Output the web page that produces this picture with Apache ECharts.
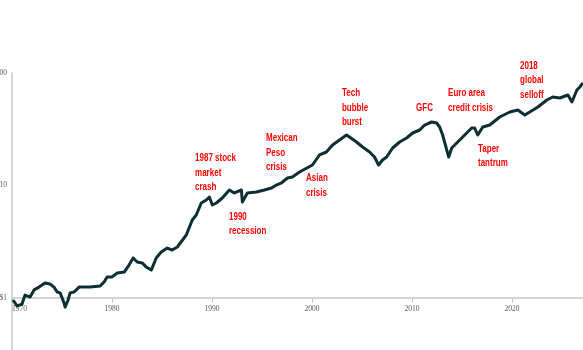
<!DOCTYPE html>
<html>
<head>
<meta charset="utf-8">
<script src="https://cdn.jsdelivr.net/npm/echarts@6/dist/echarts.min.js"></script>
<style>
html,body{margin:0;padding:0;background:#fff;}
#c{width:583px;height:350px;}
</style>
</head>
<body>
<div id="c"></div>
<script>
// Time (fractional years) and index value ($, log scale)
const years = [1970.09,1970.45,1970.90,1971.17,1971.63,1971.99,1972.44,1972.98,1973.43,1973.79,
  1974.07,1974.34,1974.70,1974.79,1975.06,1975.24,1975.60,1975.69,1976.05,1976.59,
  1977.05,1977.95,1978.31,1978.58,1979.03,1979.49,1980.12,1980.57,1980.93,1981.29,
  1981.74,1982.10,1982.56,1983.01,1983.46,1984.00,1984.45,1984.91,1985.72,1986.26,
  1986.62,1987.07,1987.52,1987.80,1988.07,1988.43,1988.97,1989.60,1990.05,1990.69,
  1990.78,1991.23,1992.04,1992.76,1993.40,1993.85,1994.30,1994.84,1995.29,1995.93,
  1997.10,1997.73,1998.36,1998.91,1999.54,2000.17,2000.44,2001.07,2001.62,2002.25,
  2002.70,2003.06,2003.42,2003.79,2004.33,2004.96,2005.59,2006.13,2006.77,2007.22,
  2007.85,2008.30,2008.57,2008.84,2009.21,2009.39,2009.66,2010.11,2010.56,2011.01,
  2011.46,2011.73,2012.01,2012.46,2013.09,2013.99,2014.90,2015.62,2016.25,2016.70,
  2017.43,2018.24,2018.78,2019.41,2020.14,2020.50,2020.95,2021.22,2021.49];
const values = [0.96,0.85,0.88,1.06,1.02,1.18,1.25,1.36,1.33,1.25,
  1.13,1.11,0.90,0.83,0.96,1.11,1.13,1.11,1.25,1.25,
  1.25,1.28,1.39,1.54,1.54,1.67,1.70,1.97,2.27,2.09,
  2.05,1.89,1.77,2.27,2.56,2.78,2.67,2.84,3.63,4.94,
  5.47,6.99,7.43,7.90,6.71,6.99,7.74,9.12,8.58,9.12,
  7.13,8.58,8.75,9.12,9.50,10.10,10.53,11.66,11.90,13.18,
  15.21,18.67,19.85,22.91,25.38,28.11,26.98,24.36,21.99,19.85,
  17.92,15.21,16.86,17.92,21.54,24.36,26.43,29.29,31.14,34.49,
  36.68,35.94,33.11,28.11,20.69,17.92,21.54,23.87,26.43,29.29,
  32.44,32.44,28.11,33.11,34.49,40.64,45.01,46.90,42.34,45.01,
  49.86,57.54,61.19,59.95,63.74,55.24,70.62,75.07,81.5];
const xTickLabels = ['1970','1980','1990','2000','2010','2020'];
const yTickValues = [1, 10, 100];
const annotationTexts = ['1987 stock\nmarket\ncrash','1990\nrecession','Mexican\nPeso\ncrisis','Asian\ncrisis',
  'Tech\nbubble\nburst','GFC','Euro area\ncredit crisis','Taper\ntantrum','2018\nglobal\nselloff'];
const annotationYears = [1986.51,1989.57,1992.91,1996.52,1999.76,2006.44,2009.33,2012.03,2015.82];
const annotationValues = [20.26,6.06,30.5,13.45,76.6,56.4,76.6,24.36,133.2];

const X0 = 1970, XSTEP = 9.02;
const axisGray = '#c8c8c8';
const tickFont = '"Liberation Serif",serif';
const noteFont = '"Liberation Sans",Arial,sans-serif';

const chart = echarts.init(document.getElementById('c'), null, {renderer:'canvas'});
chart.setOption({
  animation:false,
  backgroundColor:'#ffffff',
  grid:[
    {left:12, right:0, top:73, bottom:52, containLabel:false, outerBoundsMode:'none'},
    {left:12, right:0, top:298, bottom:0, containLabel:false, outerBoundsMode:'none'}
  ],
  xAxis:[
    {type:'value', gridIndex:0, min:X0, max:2021.5, interval:XSTEP,
     axisLine:{show:true, lineStyle:{color:axisGray, width:1.5}},
     axisTick:{show:true, length:5, lineStyle:{color:axisGray, width:1}},
     splitLine:{show:false},
     axisLabel:{color:'#595959', fontSize:7.5, fontFamily:tickFont, margin:7,
       alignMinLabel:'left', showMaxLabel:false,
       formatter:function(v){
         const k=(v-X0)/XSTEP, r=Math.round(k);
         return Math.abs(k-r)<0.02 && xTickLabels[r] ? xTickLabels[r] : '';
       }}},
    {type:'value', gridIndex:1, show:false, min:0, max:1}
  ],
  yAxis:[
    {type:'log', gridIndex:0, logBase:10, min:1, max:100,
     axisLine:{show:true, lineStyle:{color:axisGray, width:1.5}},
     axisTick:{show:false}, splitLine:{show:false},
     axisLabel:{color:'#595959', fontSize:7.5, fontFamily:tickFont, margin:5,
       formatter:function(v){ return yTickValues.indexOf(Math.round(v))>=0 ? '$'+Math.round(v) : ''; }}},
    {type:'value', gridIndex:1, min:0, max:1,
     axisLine:{show:true, lineStyle:{color:axisGray, width:1.5}},
     axisTick:{show:false}, axisLabel:{show:false}, splitLine:{show:false}}
  ],
  series:[{
    type:'line', xAxisIndex:0, yAxisIndex:0, clip:false,
    showSymbol:false, symbol:'none',
    lineStyle:{color:'#0c2f33', width:3, join:'round'},
    data: years.map((y,i)=>[y, values[i]])
  }]
});

const g = annotationTexts.map((t,i)=>{
  const p = chart.convertToPixel({gridIndex:0}, [annotationYears[i], annotationValues[i]]);
  return {type:'text', x:p[0], y:p[1], z:10, scaleX:0.8, scaleY:1,
    style:{text:t, fill:'#ff0000', fontSize:10, fontWeight:'bold', fontFamily:noteFont,
      lineHeight:14.5, align:'left', verticalAlign:'top'}};
});
chart.setOption({graphic:g});
</script>
</body>
</html>
